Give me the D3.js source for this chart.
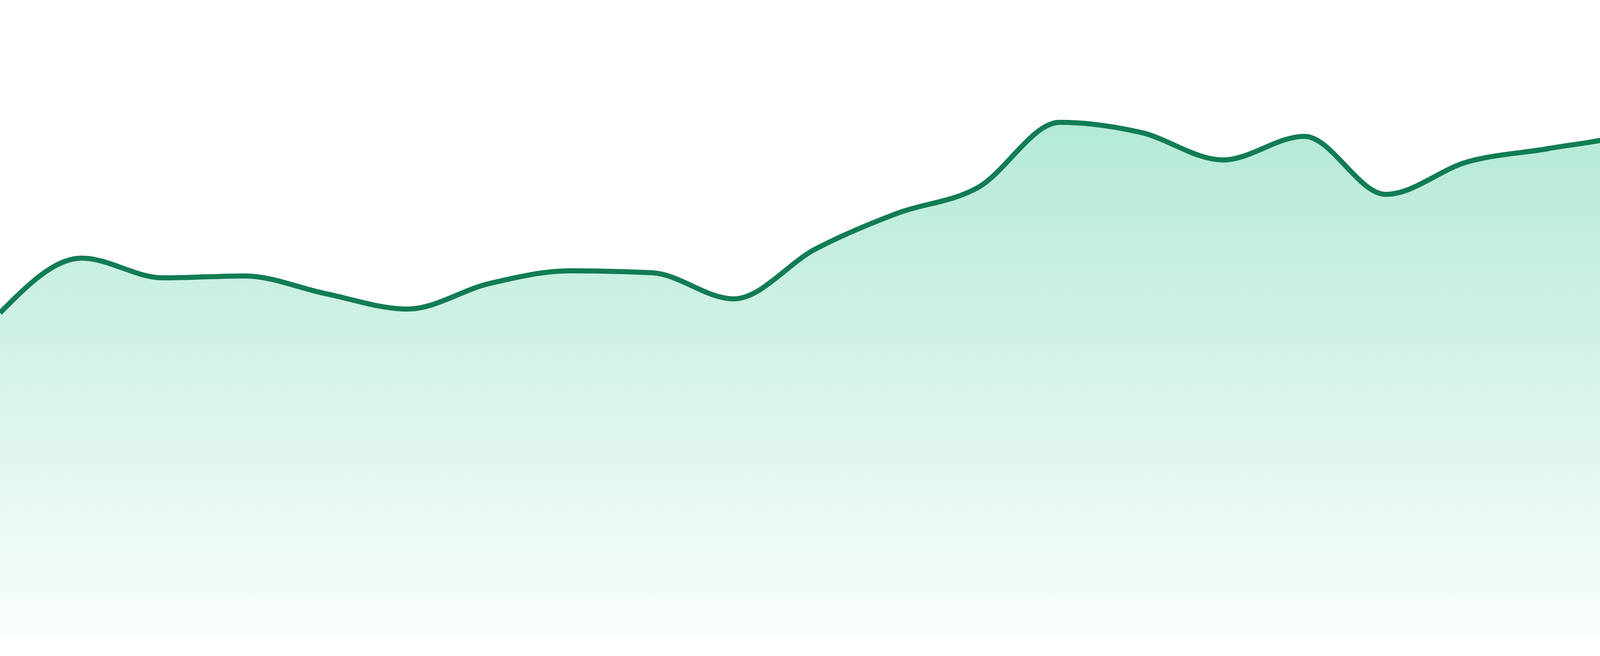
<!DOCTYPE html>
<html>
<head>
<meta charset="utf-8">
<script src="https://cdn.jsdelivr.net/npm/d3@7"></script>
<style>
  html, body { margin: 0; padding: 0; background: #fff; }
  svg { display: block; }
</style>
</head>
<body>
<div id="chart"></div>
<script>
// one point per period, evenly spaced across the width
var periods = d3.range(1, 25);
var values = [50.9, 59.5, 56.4, 56.7, 53.9, 51.5, 55.5, 57.5, 57.2, 53.1, 60.9, 66.5,
              70.6, 80.8, 79.2, 74.9, 78.6, 69.5, 74.6, 76.7, 79.2, 85.6, 87.6, 86.7];
var yDomain = [0, 100];

function draw_area(width, height) {
    var baseline = height - 48;

    var data = periods.map(function (p, i) { return { period: p, value: values[i] }; });

    var x = d3.scaleLinear()
        .domain(d3.extent(periods))
        .range([0, width]);

    var y = d3.scaleLinear()
        .domain(yDomain)
        .range([baseline, 0]);

    var svg = d3.select("#chart").append("svg")
        .attr("width", width)
        .attr("height", height);

    var grad = svg.append("defs").append("linearGradient")
        .attr("id", "fillGrad")
        .attr("x1", 0).attr("y1", 0)
        .attr("x2", 0).attr("y2", 1);
    grad.append("stop").attr("offset", "0%")
        .attr("stop-color", "#10b981").attr("stop-opacity", 0.34);
    grad.append("stop").attr("offset", "100%")
        .attr("stop-color", "#10b981").attr("stop-opacity", 0.02);

    var area = d3.area()
        .x(function (d) { return x(d.period); })
        .y0(baseline)
        .y1(function (d) { return y(d.value); })
        .curve(d3.curveMonotoneX);

    var line = d3.line()
        .x(function (d) { return x(d.period); })
        .y(function (d) { return y(d.value); })
        .curve(d3.curveMonotoneX);

    svg.append("path")
        .datum(data)
        .attr("fill", "url(#fillGrad)")
        .attr("d", area);

    svg.append("path")
        .datum(data)
        .attr("fill", "none")
        .attr("stroke", "#127c53")
        .attr("stroke-width", 13)
        .attr("stroke-linejoin", "round")
        .attr("d", line);
}

draw_area(4800, 1680);
</script>
</body>
</html>
